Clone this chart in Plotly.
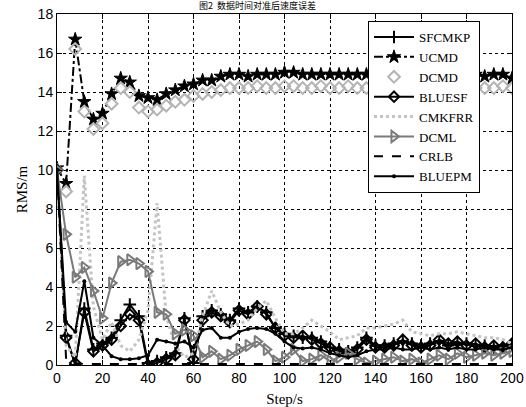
import plotly.graph_objects as go

steps = list(range(0, 201, 4))

ucmd = [10.1, 9.3, 16.7, 13.5, 12.6, 12.9, 13.9, 14.7, 14.5, 13.8, 13.7, 13.6, 13.9, 14.1, 14.3, 14.4,
        14.6, 14.6, 14.8, 14.9, 14.9, 14.8, 14.9, 14.9, 14.9, 15.0, 15.0, 14.9, 14.9, 14.9, 14.9, 14.9,
        14.9, 14.9, 14.9, 14.9, 14.9, 14.9, 14.9, 14.9, 14.9, 14.9, 14.9, 14.9, 14.9, 14.9, 14.9, 14.8,
        14.9, 14.9, 14.7]
dcmd = [10.0, 8.9, 16.2, 13.0, 12.1, 12.4, 13.4, 14.2, 14.0, 13.2, 13.0, 13.1, 13.3, 13.5, 13.6, 13.8,
        13.9, 14.0, 14.1, 14.2, 14.2, 14.2, 14.3, 14.2, 14.2, 14.3, 14.3, 14.2, 14.2, 14.3, 14.2, 14.2,
        14.3, 14.2, 14.2, 14.2, 14.3, 14.2, 14.2, 14.2, 14.3, 14.2, 14.2, 14.2, 14.3, 14.2, 14.2, 14.2,
        14.2, 14.3, 14.2]
sfcmkp = [10.0, 1.5, 0.0, 2.9, 0.8, 1.1, 1.4, 2.3, 3.1, 2.5, 0.1, 0.2, 0.4, 0.6, 2.4, 0.1,
          2.5, 2.8, 2.6, 2.3, 2.9, 2.7, 3.0, 2.7, 1.9, 1.6, 1.5, 1.4, 1.4, 1.2, 0.9, 0.8,
          0.7, 0.9, 1.4, 1.0, 1.0, 1.1, 1.2, 1.1, 1.0, 1.1, 1.2, 1.0, 1.1, 1.1, 1.0, 1.0,
          0.9, 1.0, 1.0]
bluesf = [10.0, 1.4, 0.1, 2.7, 0.7, 1.0, 1.3, 2.0, 2.6, 2.3, 0.0, 0.1, 0.3, 0.5, 2.3, 0.3,
          2.3, 2.7, 2.5, 2.2, 2.8, 2.6, 3.0, 2.6, 1.9, 1.5, 1.4, 1.5, 1.3, 1.1, 0.9, 0.7,
          0.6, 0.8, 1.3, 0.9, 0.9, 1.0, 1.3, 1.0, 0.9, 1.0, 1.3, 1.1, 1.2, 1.0, 1.1, 0.9,
          1.0, 0.9, 1.1]
cmkfrr = [10.0, 1.0, 0.4, 9.7, 3.0, 1.3, 2.2, 1.0, 0.7, 1.3, 2.8, 8.3, 2.5, 1.0, 0.4, 0.6,
          2.5, 3.8, 2.7, 2.0, 2.1, 2.3, 2.9, 3.3, 2.4, 1.6, 1.6, 1.9, 2.3, 2.0, 1.7, 1.3,
          1.4, 1.5, 1.9, 1.9, 2.0, 2.1, 2.3, 1.7, 1.6, 1.5, 1.6, 1.6, 1.7, 1.6, 1.5, 1.4,
          1.4, 1.3, 1.1]
dcml = [10.0, 6.7, 4.5, 5.0, 3.8, 2.4, 4.2, 5.3, 5.4, 5.2, 4.8, 2.7, 2.6, 1.6, 1.8, 1.5,
        0.4, 0.7, 0.3, 0.5, 0.8, 1.0, 1.2, 0.8, 0.2, 0.4, 0.8, 0.2, 0.3, 0.5, 0.2, 0.4,
        0.6, 0.3, 0.1, 0.2, 0.3, 0.4, 0.2, 0.3, 0.1, 0.3, 0.5, 0.3, 0.6, 0.4, 0.5, 0.6,
        0.5, 0.6, 0.7]
crlb = [10.0, 0.3, 0.1] + [0.05] * 48
bluepm = [10.0, 2.2, 1.7, 4.3, 1.4, 1.0, 0.45, 0.3, 0.3, 0.35, 0.5, 1.3, 1.2, 1.1, 1.2, 0.9,
          1.8, 1.9, 1.4, 1.4, 1.7, 1.85, 1.9, 1.85, 1.6, 1.2, 0.9, 0.85, 0.9, 0.8, 0.6, 0.5,
          0.4, 0.5, 0.7, 0.8, 0.8, 0.9, 0.8, 0.8, 0.9, 0.8, 0.9, 0.8, 0.9, 0.8, 0.8, 0.9,
          0.8, 0.8, 0.9]

series = [
    ("SFCMKP", sfcmkp, dict(color="black", width=2, dash="solid"),
     dict(symbol="cross-thin-open", size=9, color="black", line=dict(width=2, color="black")), "lines+markers"),
    ("UCMD", ucmd, dict(color="black", width=2, dash="dashdot"),
     dict(symbol="star", size=10, color="black", line=dict(width=1, color="black")), "lines+markers"),
    ("DCMD", dcmd, dict(color="#b4b4b4", width=2),
     dict(symbol="diamond-open", size=9, color="#b4b4b4", line=dict(width=2, color="#b4b4b4")), "markers"),
    ("BLUESF", bluesf, dict(color="black", width=2, dash="solid"),
     dict(symbol="diamond-open", size=8, color="black", line=dict(width=2, color="black")), "lines+markers"),
    ("CMKFRR", cmkfrr, dict(color="#c4c4c4", width=3, dash="dot"), None, "lines"),
    ("DCML", dcml, dict(color="#7a7a7a", width=2, dash="solid"),
     dict(symbol="triangle-right-open", size=10, color="#7a7a7a", line=dict(width=2, color="#7a7a7a")), "lines+markers"),
    ("CRLB", crlb, dict(color="black", width=2, dash="dash"), None, "lines"),
    ("BLUEPM", bluepm, dict(color="black", width=2, dash="solid"),
     dict(symbol="circle", size=4, color="black"), "lines+markers"),
]

fig = go.Figure()
for name, vals, line, marker, mode in series:
    kw = dict(x=steps, y=vals, name=name, mode=mode, line=line)
    if marker is not None:
        kw["marker"] = marker
    fig.add_trace(go.Scatter(**kw))

axis_common = dict(
    showline=True, linecolor="black", linewidth=1, mirror="ticks",
    ticks="inside", ticklen=5, tickcolor="black",
    showgrid=True, gridcolor="black", gridwidth=1, griddash="3px,3px",
    zeroline=False,
    tickfont=dict(family="Liberation Sans, Arial", size=14, color="black"),
)

fig.update_xaxes(range=[0, 200], tickvals=list(range(0, 201, 20)),
                 title=dict(text="Step/s", font=dict(family="Liberation Serif, Times New Roman", size=15, color="black"),
                            standoff=8),
                 **axis_common)
fig.update_yaxes(range=[0, 18], tickvals=list(range(0, 19, 2)),
                 title=dict(text="RMS/m", font=dict(family="Liberation Serif, Times New Roman", size=15, color="black"),
                            standoff=6),
                 **axis_common)

fig.add_annotation(text="图2  数据时间对准后速度误差", xref="paper", yref="paper",
                   x=0.44, y=1.0, yshift=1, xanchor="center", yanchor="bottom", showarrow=False,
                   borderpad=0,
                   font=dict(family="Noto Sans CJK SC", size=9, color="black"))

fig.update_layout(
    width=526, height=407,
    margin=dict(l=57, r=14, t=14, b=42, autoexpand=False),
    paper_bgcolor="white", plot_bgcolor="white",
    legend=dict(x=0.6835, y=0.98, xanchor="left", yanchor="top",
                bgcolor="white", bordercolor="black", borderwidth=1,
                font=dict(family="Liberation Serif, Times New Roman", size=13, color="black"),
                tracegroupgap=0, itemwidth=40),
    showlegend=True,
)

fig.write_html("out.html")
